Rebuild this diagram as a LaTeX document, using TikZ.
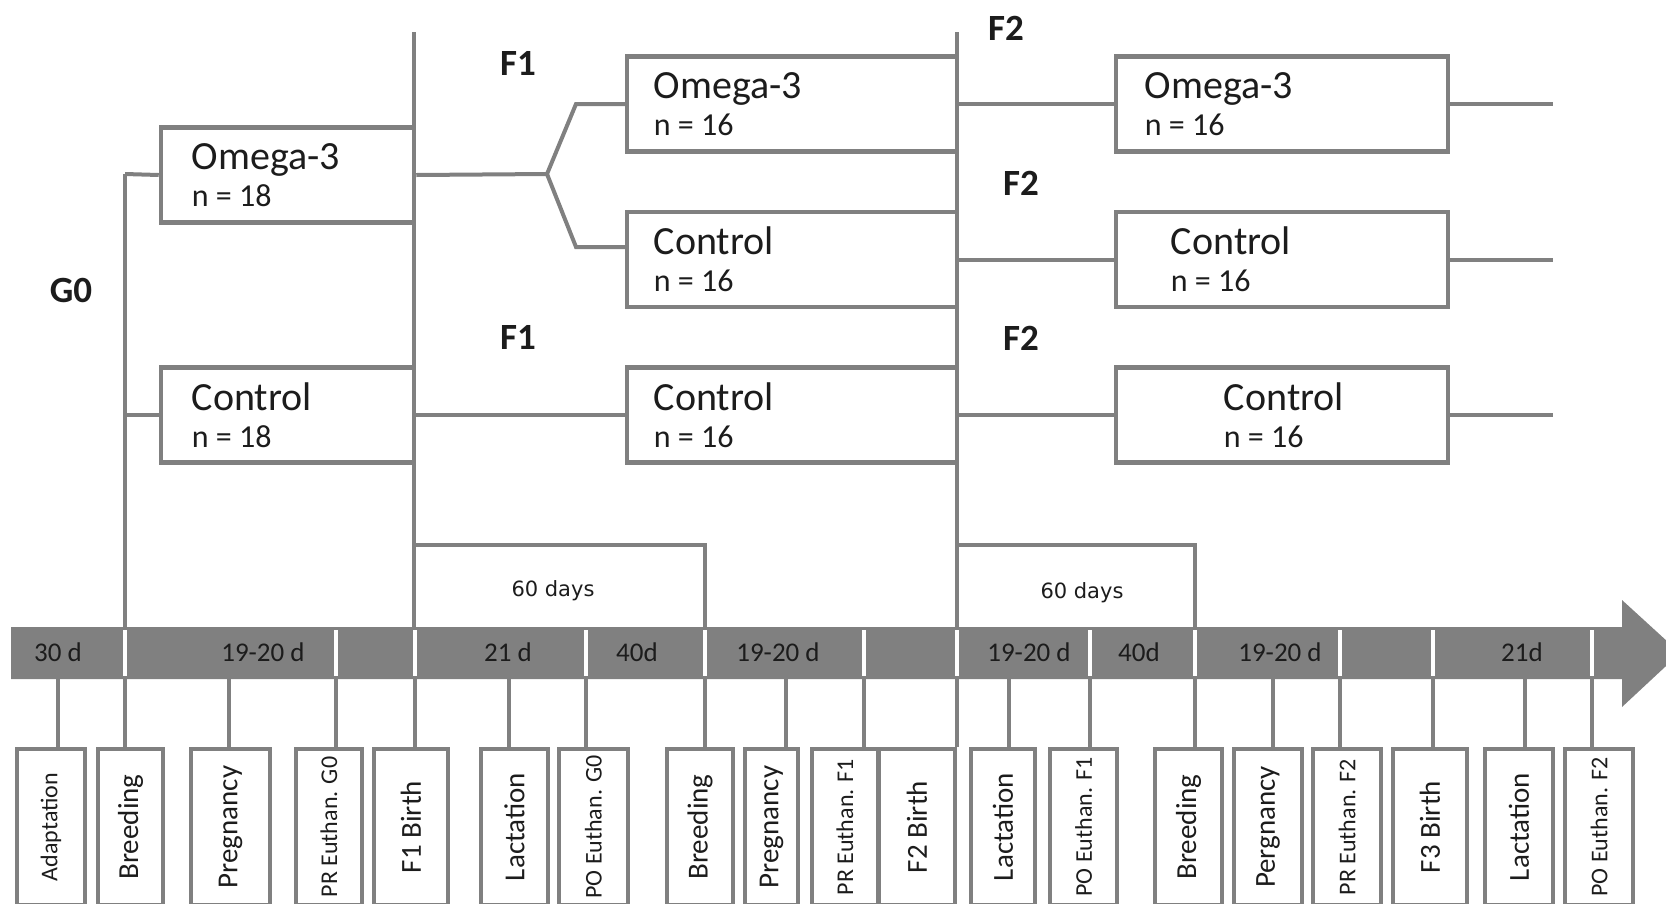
\documentclass[tikz,border=0pt]{standalone}
\usepackage{graphicx}
\usepackage{fontspec}
\setmainfont{Carlito}
\newfontfamily\dvsans{DejaVu Sans}
\usetikzlibrary{calc}
\definecolor{lngray}{RGB}{128,128,128}
\definecolor{txt}{RGB}{28,28,28}
\newcommand{\grpname}[1]{{\fontsize{40}{37}\selectfont #1}}
\tikzset{ln/.style={draw=lngray, line width=4pt},
  grp/.style={draw=lngray, line width=4.5pt, minimum width=#1, minimum height=95pt, inner sep=0pt},
  gtxt/.style={anchor=west, align=left, inner sep=0pt, text=txt, font=\fontsize{32}{37}\selectfont},
  gen/.style={text=txt, font=\fontsize{37}{37}\selectfont\bfseries},
  dur/.style={text=txt, font=\fontsize{27}{27}\selectfont},
  dys/.style={text=txt, font=\dvsans\fontsize{21}{21}\selectfont},
  ev/.style={draw=lngray, line width=3.5pt, minimum width=#1, minimum height=156pt, inner sep=0pt, text=txt, font=\fontsize{29}{29}\selectfont},
  evs/.style={ev=#1, font=\fontsize{24}{24}\selectfont},
  sep/.style={draw=white, line width=4pt}}

\begin{document}
\begin{tikzpicture}[x=1pt,y=-1pt]
                \useasboundingbox (0,0) rectangle (1666,903);
                \clip (0,0) rectangle (1666,903);
                % groups
                \node[grp=253] (o0) at (287.5,175) {};
                \node[grp=253] (c0) at (287.5,415) {};
                \node[grp=330] (o1) at (792,104) {};
                \node[grp=330] (c1) at (792,259.5) {};
                \node[grp=330] (c1b) at (792,415) {};
                \node[grp=332] (o2) at (1282,104) {};
                \node[grp=332] (c2) at (1282,259.5) {};
                \node[grp=332] (c2b) at (1282,415) {};
                \node[gtxt] at ([xshift=33pt]o0.west) {\grpname{Omega-3}\\n = 18};
                \node[gtxt] at ([xshift=33pt]c0.west) {\grpname{Control}\\n = 18};
                \node[gtxt] at ([xshift=29pt]o1.west) {\grpname{Omega-3}\\n = 16};
                \node[gtxt] at ([xshift=29pt]c1.west) {\grpname{Control}\\n = 16};
                \node[gtxt] at ([xshift=29pt]c1b.west) {\grpname{Control}\\n = 16};
                \node[gtxt] at ([xshift=31pt]o2.west) {\grpname{Omega-3}\\n = 16};
                \node[gtxt] at ([xshift=57pt]c2.west) {\grpname{Control}\\n = 16};
                \node[gtxt] at ([xshift=110pt]c2b.west) {\grpname{Control}\\n = 16};
                \node[gen] (g0l) at (71,290) {G0};
                \node[gen] (f1a) at (518,63) {F1};
                \node[gen] (f1b) at (518,337) {F1};
                \node[gen] (f2a) at (1006,28) {F2};
                \node[gen] (f2b) at (1021,183) {F2};
                \node[gen] (f2c) at (1021,338) {F2};
                % lines
                \coordinate (g0) at (125,174);
                \coordinate (f1) at (414,32);
                \coordinate (f2) at (957,32);
                \coordinate (bt) at (0,627);
                \coordinate (bb) at (0,679);
                \coordinate (sp) at (547,174);
                \coordinate (spa) at (576,104);
                \coordinate (spb) at (576,247);
                \coordinate (d1) at (705,545);
                \coordinate (d2) at (1195,545);
                \coordinate (rt) at (1553,0);
                \draw[ln] (g0) -- (g0 |- bt);
                \draw[ln] (g0) -- (o0.west);
                \draw[ln] (g0 |- c0.west) -- (c0.west);
                \draw[ln] (f1) -- (f1 |- bt);
                \draw[ln] (f2) -- (f2 |- bt);
                \draw[ln] (o0.east) -- (sp) -- (spa) -- (spa -| o1.west);
                \draw[ln] (sp) -- (spb) -- (spb -| c1.west);
                \draw[ln] (c0.east) -- (c1b.west);
                \draw[ln] (f2 |- o2.west) -- (o2.west);
                \draw[ln] (f2 |- c2.west) -- (c2.west);
                \draw[ln] (f2 |- c2b.west) -- (c2b.west);
                \draw[ln] (o2.east) -- (o2.east -| rt);
                \draw[ln] (c2.east) -- (c2.east -| rt);
                \draw[ln] (c2b.east) -- (c2b.east -| rt);
                \draw[ln] (f1 |- d1) -- (d1) -- (d1 |- bt);
                \draw[ln] (f2 |- d2) -- (d2) -- (d2 |- bt);
                \node[dys] (t1) at (553,591) {60 days};
                \node[dys] (t2) at (1082,593) {60 days};
                % timeline
                \fill[lngray] (11,627) -- (1622,627) -- (1622,600) -- (1680,653) -- (1622,707) -- (1622,679) -- (11,679) -- cycle;
                \foreach \x in {125,336,415,586,705,864,957,1090,1195,1340,1433,1592}
                  \draw[sep] (\x,630) -- (\x,676);
                \node[dur] at (58,652) {30 d};
                \node[dur] at (263,652) {19-20 d};
                \node[dur] at (508,652) {21 d};
                \node[dur] at (637,652) {40d};
                \node[dur] at (778,652) {19-20 d};
                \node[dur] at (1029,652) {19-20 d};
                \node[dur] at (1139,652) {40d};
                \node[dur] at (1280,652) {19-20 d};
                \node[dur] at (1522,652) {21d};
                % events
                \node[evs=68] (b1) at (51,827) {\rotatebox{90}{Adaptation}};
                \node[ev=65] (b2) at (130.5,827) {\rotatebox{90}{Breeding}};
                \node[ev=79] (b3) at (230.5,827) {\rotatebox{90}{Pregnancy}};
                \node[evs=66] (b4) at (329,827) {\rotatebox{90}{PR Euthan. G0}};
                \node[ev=74] (b5) at (411,827) {\rotatebox{90}{F1 Birth}};
                \node[ev=67] (b6) at (514.5,827) {\rotatebox{90}{Lactation}};
                \node[evs=69] (b7) at (593.5,827) {\rotatebox{90}{PO Euthan. G0}};
                \node[ev=66] (b8) at (700,827) {\rotatebox{90}{Breeding}};
                \node[ev=53] (b9) at (771.5,827) {\rotatebox{90}{Pregnancy}};
                \node[evs=66] (b10) at (845,827) {\rotatebox{90}{PR Euthan. F1}};
                \node[ev=76] (b11) at (917,827) {\rotatebox{90}{F2 Birth}};
                \node[ev=64] (b12) at (1003,827) {\rotatebox{90}{Lactation}};
                \node[evs=67] (b13) at (1083.5,827) {\rotatebox{90}{PO Euthan. F1}};
                \node[ev=67] (b14) at (1188.5,827) {\rotatebox{90}{Breeding}};
                \node[ev=68] (b15) at (1268,827) {\rotatebox{90}{Pergnancy}};
                \node[evs=68] (b16) at (1347,827) {\rotatebox{90}{PR Euthan. F2}};
                \node[ev=74] (b17) at (1430,827) {\rotatebox{90}{F3 Birth}};
                \node[ev=68] (b18) at (1519,827) {\rotatebox{90}{Lactation}};
                \node[evs=68] (b19) at (1599,827) {\rotatebox{90}{PO Euthan. F2}};
                \foreach \i/\x in {1/58,2/125,3/229,4/336,5/415,6/509,7/586,8/705,9/786,10/864,11/957,12/1009,13/1090,14/1195,15/1273,16/1340,17/1433,18/1525,19/1592}
                  {\coordinate (tk) at (\x,679);
                   \draw[ln] (tk) -- (tk |- b\i.north);}
            \end{tikzpicture}
\end{document}
